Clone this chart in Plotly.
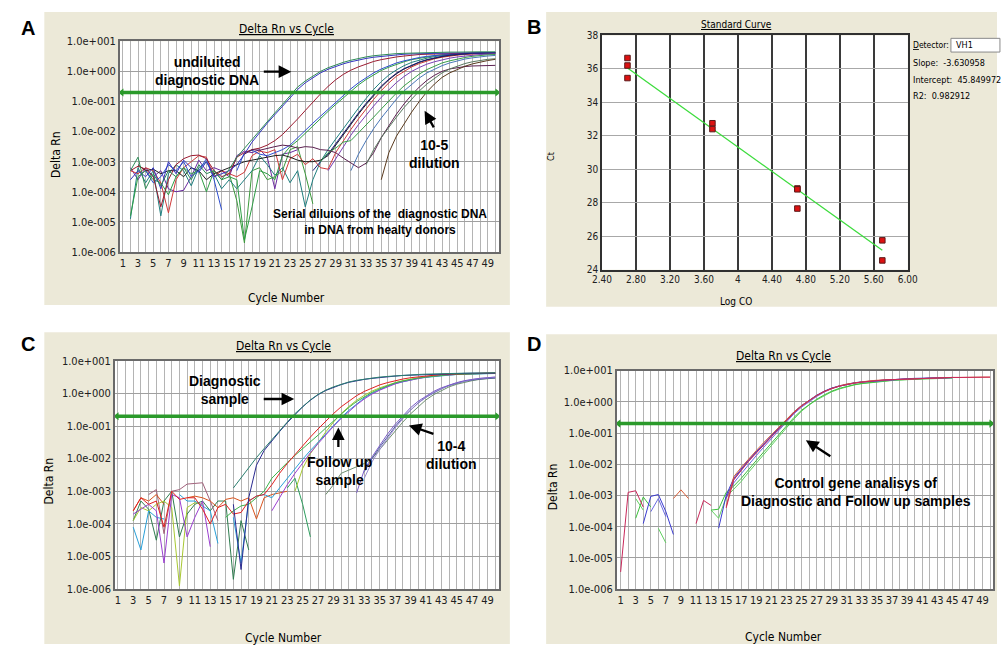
import plotly.graph_objects as go

W, H = 1007, 651

# ------------------------------------------------------------------ data
CYCLE_TICK0, CYCLE_STEP = 1, 2
LOG_TICK_EXP = [1, 0, -1, -2, -3, -4, -5, -6]
LOG_TICK_TEXT = ["1.0e+001", "1.0e+000", "1.0e-001", "1.0e-002",
                 "1.0e-003", "1.0e-004", "1.0e-005", "1.0e-006"]
THRESHOLD = 0.2

# Panel A: (first cycle, log10 Delta Rn per cycle; None = gap)
A_TEAL = (2, [-3.3, -2.85, -3.9, -3.4, -3.8, -3.3, -3.5, -3.2, -3.6, -3.1, -3.4, -3.3, -3.6, -3.25,
              -2.85, -2.55, -2.25, -1.95, -1.66, -1.38, -1.1, -0.8, -0.52, -0.32, -0.15, 0.0, 0.12, 0.22,
              0.3, 0.37, 0.43, 0.48, 0.52, 0.55, 0.57, 0.59, 0.6, 0.61, 0.62, 0.63, 0.63, 0.64, 0.64,
              0.64, 0.65, 0.65, 0.65, 0.65, 0.65])
A_BLUE = (2, [-3.6, -3.3, -3.5, -3.2, -3.9, -3.0, -3.4, -2.95, -3.2, -3.35, -3.0, -3.5, -3.4, -3.3,
              -3.1, -2.75, -2.35, -2.02, -1.72, -1.44, -1.16, -0.88, -0.6, -0.38, -0.2, -0.05, 0.07, 0.17,
              0.25, 0.32, 0.38, 0.43, 0.47, 0.5, 0.53, 0.55, 0.57, 0.58, 0.59, 0.6, 0.6, 0.61, 0.61,
              0.61, 0.62, 0.62, 0.62, 0.62, 0.62])
A_DARKRED = (2, [-3.3, -3.15, -3.25, -3.5, -4.5, -3.6, -3.1, -2.9, -2.8, -2.78, -2.9, -3.3, -3.5, -3.4,
                 -2.85, -2.7, -2.6, -2.55, -2.45, -2.3, -2.1, -1.85, -1.58, -1.3, -1.02, -0.75, -0.5,
                 -0.28, -0.1, 0.04, 0.15, 0.25, 0.33, 0.39, 0.44, 0.48, 0.51, 0.54, 0.56, 0.57, 0.58,
                 0.59, 0.6, 0.6, 0.61, 0.61, 0.61, 0.61, 0.61])
A_ROYAL = (4, [-3.3, -3.7, -3.5, -3.1, -3.3, -3.0, -3.5, -3.3, -2.9, -3.6, -4.6, None,
               -3.3, -2.7, -2.62, -2.75, -2.8, -2.7, -2.6, -2.45, -2.2, -1.95, -1.72, -1.49, -1.26,
               -1.03, -0.8, -0.58, -0.38, -0.2, -0.05, 0.08, 0.19, 0.28, 0.35, 0.41, 0.46, 0.5, 0.53,
               0.55, 0.57, 0.58, 0.59, 0.6, 0.6, 0.6, 0.6])
A_GREEN = (2, [-4.8, -3.5, -3.3, -3.6, -3.7, -4.1, -3.5, -3.2, -3.4, -3.3, -4.0, -3.3, -3.6, -3.5,
               -3.6, -5.6, -4.5, -3.3, -3.4, -3.6, -2.8, -2.5, -2.3, -2.05, -1.8, -1.56, -1.33, -1.1,
               -0.88, -0.66, -0.45, -0.27, -0.11, 0.03, 0.14, 0.24, 0.32, 0.39, 0.44, 0.48, 0.52, 0.55,
               0.57, 0.58, 0.59, 0.6, 0.6, 0.61, 0.61])
A_BLACK = (3, [-3.1, -3.3, -3.25, -3.4, -3.3, -3.3, -3.5, -3.2, -3.3, -3.6, -3.4, -3.3, -3.2,
               -3.1, -3.0, -2.95, -2.9, -2.85, -2.8, -2.78, -2.85, -2.95, -3.0, -3.0, -2.95, -2.8,
               -2.45, -2.1, -1.75, -1.42, -1.1, -0.8, -0.52, -0.28, -0.08, 0.08, 0.2, 0.3, 0.38, 0.44,
               0.49, 0.53, 0.56, 0.58, 0.6, 0.61, 0.62, 0.62])
A_NAVY = (26, [-3.3, -3.0, -2.75, -2.4, -2.05, -1.7, -1.38, -1.06, -0.76, -0.49, -0.26, -0.06, 0.09,
               0.21, 0.31, 0.39, 0.45, 0.5, 0.54, 0.57, 0.59, 0.6, 0.61, 0.62, 0.62])
A_RED = (2, [-3.3, -3.4, -3.2, -3.3, -3.7, -4.7, -3.6, -3.2, -3.0, -2.8, -2.85, -3.5, -3.3, -3.4,
             -3.5, -3.35, -2.8, -2.65, -2.7, -2.6, -3.6, -2.9, -2.75, -3.1, -2.9, -3.2, -3.25, -2.7,
             -2.3, -1.93, -1.58, -1.25, -0.93, -0.64, -0.38, -0.16, 0.01, 0.15, 0.26, 0.35, 0.42,
             0.47, 0.51, 0.54, 0.56, 0.58, 0.59, 0.6, 0.6])
A_PURPLE = (28, [-3.3, -2.9, -2.5, -2.12, -1.77, -1.45, -1.15, -0.86, -0.6, -0.37, -0.17, 0.0, 0.13,
                 0.24, 0.32, 0.39, 0.44, 0.48, 0.51, 0.54, 0.56, 0.57, 0.58])
A_LEAF = (27, [-3.0, -2.7, -2.55, -2.35, -2.3, -2.05, -1.8, -1.52, -1.25, -0.98, -0.72, -0.48, -0.27,
               -0.09, 0.06, 0.18, 0.28, 0.35, 0.41, 0.46, 0.5, 0.53, 0.55, 0.56])
A_CYAN = (2, [-4.9, -3.2, -3.7, -3.3, -4.8, -3.4, -3.1, -3.3, -3.8, -3.2, -3.0, -3.4, -3.9, -3.6,
              -3.9, -3.6, -3.3, -2.8, -3.1, -3.45, -3.2, -3.7, -3.3, -4.5, -3.6, -3.0, -2.6, -2.25,
              -1.9, -1.55, -1.22, -0.9, -0.6, -0.34, -0.12, 0.05, 0.19, 0.3, 0.38, 0.44, 0.49, 0.53,
              0.56, 0.58, 0.6, 0.61, 0.62, 0.62, 0.63])
A_STEEL = (31, [-3.3, -2.75, -2.3, -1.9, -1.55, -1.22, -0.92, -0.65, -0.42, -0.22, -0.05, 0.08, 0.19,
                0.28, 0.35, 0.41, 0.45, 0.49, 0.51, 0.53])
A_PLUM = (17, [-2.75, -2.6, -2.62, -2.55, -2.5, -2.45, -2.48, -2.55, -2.5, -2.52, -2.6, -2.62, -2.7,
               -2.88, -3.05, -3.2, -3.05, -2.7, -2.2, -1.8, -1.42, -1.08, -0.78, -0.52, -0.3, -0.13,
               0.0, 0.08, 0.13, 0.16, 0.18, 0.19, 0.2, 0.2])
A_SAGE = (33, [-3.1, -2.6, -2.2, -1.85, -1.52, -1.2, -0.92, -0.65, -0.42, -0.22, -0.05, 0.08, 0.18,
               0.26, 0.32, 0.37, 0.4, 0.42])
A_BROWN = (35, [-3.6, -2.7, -2.15, -1.75, -1.35, -1.0, -0.68, -0.42, -0.2, -0.05, 0.07, 0.17, 0.25,
                0.31, 0.36, 0.4])
A_VIOLET = (2, [-3.2, -3.6, -3.2, -3.5, -3.3, -3.9, -4.0, -3.95, -3.5, -2.95, -3.3, -3.2, -3.3, -3.5,
                -2.8, -2.65, -2.7, -2.6, -2.85, -3.9, -2.75, -2.7, -2.6])
A_SPIKE = (15, [-3.4, -4.3, -5.7, -3.3, -3.2, -3.6, -3.5, -3.3, -2.6, -2.5, -3.4, -4.4])

# Panel B: standard curve
B_LOGCO = [2.70, 2.70, 2.70, 3.70, 3.70, 4.70, 4.70, 4.70, 5.70, 5.70]
B_CT = [36.65, 36.20, 35.45, 32.75, 32.40, 28.85, 28.80, 27.65, 25.75, 24.55]
B_SLOPE = -3.630958
B_INTERCEPT = 45.849972
B_R2 = 0.982912
B_DETECTOR = "VH1"
B_XTICKS = [2.4, 2.8, 3.2, 3.6, 4.0, 4.4, 4.8, 5.2, 5.6, 6.0]
B_XTEXT = ["2.40", "2.80", "3.20", "3.60", "4", "4.40", "4.80", "5.20", "5.60", "6.00"]

# Panel C
C_DIAG1 = (16, [-2.9, -2.58, -2.27, -1.97, -1.69, -1.41, -1.14, -0.88, -0.62, -0.4, -0.2, -0.03, 0.1,
                0.2, 0.28, 0.35, 0.4, 0.44, 0.47, 0.5, 0.52, 0.54, 0.56, 0.57, 0.58, 0.59, 0.6, 0.6,
                0.61, 0.61, 0.62, 0.62, 0.62, 0.62, 0.63])
C_DIAG2 = (16, [-3.4, -5.4, -3.2, -2.2, -1.75, -1.45, -1.17, -0.9, -0.64, -0.41, -0.21, -0.04, 0.09,
                0.19, 0.27, 0.34, 0.39, 0.43, 0.46, 0.49, 0.51, 0.53, 0.55, 0.56, 0.57, 0.58, 0.59,
                0.6, 0.6, 0.61, 0.61, 0.62, 0.62, 0.62, 0.62])
C_RED = (3, [-3.6, -3.2, -3.4, -3.3, -4.1, -3.0, -3.25, -3.2, -3.2, -3.55, -4.0, -3.5, -3.4,
             -3.7, -3.65, -3.3, -3.15, -3.1, -2.8, -2.45, -2.15, -1.87, -1.6, -1.34, -1.09, -0.85,
             -0.62, -0.41, -0.23, -0.07, 0.06, 0.17, 0.26, 0.33, 0.39, 0.44, 0.48, 0.51, 0.54, 0.56,
             0.58, 0.59, 0.6, 0.61, 0.61, 0.62, 0.62, 0.62])
C_ORANGE = (3, [-3.6, -3.2, -3.3, -3.1, -3.4, None, None, -3.2, -3.15, -3.2, -3.3, -3.5, -3.25,
                -3.2, -3.3, -3.2, -3.85, -3.2, -3.1, -3.05, -3.0])
C_GREEN = (15, [-3.8, -3.6, -3.45, -3.4, -3.2, -3.0, -2.6, -2.35, -2.12, -1.9, -1.7, -1.5, -1.28,
                -1.06, -0.84, -0.63, -0.43, -0.25, -0.1, 0.03, 0.14, 0.24, 0.32, 0.38, 0.43, 0.47,
                0.5, 0.53, 0.55, 0.57, 0.58, 0.59, 0.6, 0.61, 0.61, 0.62])
C_LIME = (3, [-3.9, -3.5, -3.6, -3.4, -3.3, -3.5, -5.9, -3.5, -3.35, -3.4, None, None, None, None,
              None, None, None, None, None, None, None, -3.0, -2.3, -1.85, -1.5, -1.18, -0.88,
              -0.62, -0.4, -0.21, -0.06, 0.07, 0.17, 0.26, 0.33, 0.39, 0.44, 0.48, 0.51, 0.54, 0.56,
              0.58, 0.59, 0.6, 0.61, 0.62, 0.62, 0.63])
C_SKY = (3, [-4.1, -4.8, -3.6, -3.8, -3.85, None, -3.1, -3.3, -3.3, -3.45, -3.6, -4.6, None,
             -3.8, -5.2, -3.3, -3.15, -3.1, -3.2, -2.9, -2.6, -2.3, -2.02, -1.75, -1.49, -1.23,
             -0.98, -0.74, -0.52, -0.32, -0.14, 0.0, 0.12, 0.22, 0.3, 0.36, 0.41, 0.46, 0.49, 0.52,
             0.54, 0.56, 0.58, 0.59, 0.6, 0.6, 0.61, 0.61])
C_PURPLE = (3, [-3.7, -3.55, -3.4, -3.6, -5.2, -3.1, -3.2, -4.4, -3.8, -3.3, -4.7, None, None, None,
                None, None, None, None, -3.6, -3.2, -2.8, -2.45, -2.12, -1.82, -1.54, -1.27, -1.01,
                -0.77, -0.55, -0.35, -0.17, -0.02, 0.1, 0.2, 0.29, 0.36, 0.41, 0.46, 0.5, 0.53, 0.55,
                0.57, 0.58, 0.6, 0.6, 0.61, 0.61, 0.62])
C_MAUVE = (5, [-3.1, -2.95, -4.3, -3.0, -2.95, -2.78, -2.76, -2.74, -3.3, -3.9])
C_PINE = (3, [-3.9, -3.3, -3.55, -4.5, -3.3, -3.0, -4.4, -3.7, -3.4, -3.3, -3.6, -3.3, -3.3,
              -5.7, -3.9, -4.8])
C_FALL = (23, [-2.9, -2.6, -3.4, -4.4])
C_DIL1 = (32, [-3.05, -2.35, -1.95, -1.58, -1.25, -0.95, -0.68, -0.44, -0.24, -0.08, 0.06, 0.17,
               0.26, 0.33, 0.39, 0.43, 0.46, 0.48, 0.5])
C_DIL2 = (33, [-2.6, -2.1, -1.72, -1.38, -1.06, -0.78, -0.52, -0.3, -0.12, 0.03, 0.15, 0.25, 0.32,
               0.38, 0.43, 0.46, 0.48, 0.5])
C_DIL3 = (28, [-3.1, -2.8, -2.45, -2.35, -2.25, -2.15, -2.0, -1.72, -1.43, -1.15, -0.88, -0.63,
               -0.4, -0.2, -0.04, 0.09, 0.2, 0.28, 0.34, 0.39, 0.43, 0.45, 0.47])
C_DIL4 = (33, [-2.4, -2.0, -1.65, -1.32, -1.02, -0.74, -0.5, -0.29, -0.12, 0.02, 0.14, 0.24, 0.31,
               0.37, 0.41, 0.44, 0.46, 0.47])

# Panel D
D_CRIMSON = (1, [-5.45, -2.9, -2.85, -3.37, None, None, None, None, None, None, -3.9, -3.16, -3.32,
                 None, -3.4, -2.5, -2.2, -1.9, -1.64, -1.38, -1.12, -0.86, -0.59, -0.35, -0.14, 0.03,
                 0.2, 0.33, 0.43, 0.5, 0.56, 0.6, 0.63, 0.66, 0.68, 0.7, 0.71, 0.72, 0.74, 0.75, 0.76,
                 0.76, 0.77, 0.77, 0.78, 0.78, 0.78, 0.79, 0.79, 0.79])
D_BLUE = (4, [-3.9, -3.03, -2.97, -3.52, -4.25, None, None, None, None, None, -4.05, -3.0, -2.45,
              -2.15, -1.85, -1.6, -1.34, -1.08, -0.82, -0.56, -0.32, -0.12, 0.05, 0.21, 0.34, 0.44,
              0.51, 0.57, 0.61, 0.64, 0.66, 0.68, 0.7, 0.71, 0.72, 0.74, 0.75, 0.76, 0.76, 0.77, 0.77,
              0.78])
D_LAVENDER = (5, [-3.52, -3.1, -3.68, None, None, None, None, None, None, None, -3.05, -2.6, -2.3,
                  -2.0, -1.72, -1.45, -1.18, -0.9, -0.63, -0.38, -0.17, 0.0, 0.17, 0.31, 0.42, 0.5,
                  0.56, 0.6, 0.63, 0.65, 0.67, 0.69, 0.71, 0.72, 0.73, 0.74, 0.75, 0.76, 0.76, 0.77,
                  0.77])
D_GREEN = (3, [-3.73, -3.05, -3.37, None, None, None, None, None, None, None, -3.47, -3.44, -2.9,
               -2.7, -2.45, -2.15, -1.88, -1.6, -1.32, -1.04, -0.76, -0.5, -0.27, -0.08, 0.08, 0.22,
               0.34, 0.43, 0.5, 0.55, 0.59, 0.62, 0.65, 0.67, 0.69, 0.7, 0.72, 0.73, 0.74, 0.75, 0.76,
               0.76, 0.77])
D_LIGHTGREEN = (3, [-3.1, -3.47, None, -4.05, -4.52, None, None, None, None, None, -3.47, -3.73,
                    -3.05, -2.8, -2.55, -2.25, -1.97, -1.68, -1.4, -1.1, -0.82, -0.55, -0.3, -0.1,
                    0.06, 0.2, 0.32, 0.41, 0.48, 0.54, 0.58, 0.61, 0.64, 0.66, 0.68, 0.7, 0.71, 0.72,
                    0.73, 0.74, 0.75, 0.76, 0.76])
D_ORANGE = (8, [-3.1, -2.82, -3.1, None, None, None, None, -3.35, -2.4, -2.1, -1.82, -1.56, -1.3,
                -1.05, -0.8, -0.55, -0.32, -0.12, 0.05, 0.2, 0.33, 0.43, 0.51, 0.57, 0.61, 0.64,
                0.67, 0.69, 0.7, 0.72, 0.73, 0.74, 0.75, 0.76, 0.77, 0.77, 0.78, 0.78, 0.78, 0.79,
                0.79, 0.79, 0.79])
D_PURPLE = (15, [-3.1, -2.5, -2.18, -1.88, -1.62, -1.36, -1.1, -0.84, -0.58, -0.34, -0.13, 0.04, 0.2,
                 0.33, 0.43, 0.5, 0.56, 0.6, 0.63, 0.66, 0.68, 0.7, 0.71, 0.72, 0.74, 0.75, 0.76,
                 0.76, 0.77, 0.77, 0.78])

# ------------------------------------------------------------------ styling
BEIGE = "#ece9d8"
GRID = "#b4b4b4"
AXIS = "#6a6a6a"
NARROW = "DejaVu Sans Condensed, Liberation Sans Narrow, Arial Narrow, sans-serif"
BOLD = "Liberation Sans, Arial, sans-serif"
THR_COLOR = "#2b9a2b"


def px(x):
    return x / W


def py(y):
    return 1 - y / H


def curve(spec):
    start, logs = spec
    xs = list(range(start, start + len(logs)))
    ys = [None if v is None else 10 ** v for v in logs]
    return xs, ys


fig = go.Figure()

A_STYLE = [(A_VIOLET, "#6a2aa0"), (A_SPIKE, "#3c9a3c"), (A_CYAN, "#1f7f7f"), (A_GREEN, "#2e9e45"),
           (A_RED, "#d03a3a"), (A_BLACK, "#1e1e1e"), (A_ROYAL, "#2f4fd0"), (A_DARKRED, "#9b1b30"),
           (A_BLUE, "#3535c0"), (A_NAVY, "#1c1c7a"), (A_PURPLE, "#7a3fb5"), (A_LEAF, "#3aa04a"),
           (A_STEEL, "#4a78b8"), (A_PLUM, "#5b1f4f"), (A_SAGE, "#5a7a60"), (A_BROWN, "#5a3a1e"),
           (A_TEAL, "#2e8b57")]
C_STYLE = [(C_PINE, "#2e7d4f"), (C_MAUVE, "#a0607a"), (C_ORANGE, "#d9541e"), (C_FALL, "#2e9e5e"),
           (C_LIME, "#a8c832"), (C_SKY, "#2aa0d8"), (C_PURPLE, "#9b3fd0"), (C_GREEN, "#3cb44b"),
           (C_RED, "#e02020"), (C_DIL3, "#6f8f70"), (C_DIL4, "#5060a0"), (C_DIL2, "#9a8ad0"),
           (C_DIL1, "#7b5cc8"), (C_DIAG2, "#2a2a90"), (C_DIAG1, "#2a7f6f")]
D_STYLE = [(D_LIGHTGREEN, "#60d060"), (D_GREEN, "#3cc03c"), (D_LAVENDER, "#6a6ae0"),
           (D_PURPLE, "#8040a0"), (D_BLUE, "#3a3ad0"), (D_ORANGE, "#d8603a"), (D_CRIMSON, "#c8285a")]

X_RANGES = {"x": [0.6, 50.5], "x3": [0.62, 50.5], "x4": [0.48, 50.4]}

for styles, xa, ya in [(A_STYLE, "x", "y"), (C_STYLE, "x3", "y3"), (D_STYLE, "x4", "y4")]:
    for spec, col in styles:
        xs, ys = curve(spec)
        fig.add_trace(go.Scatter(x=xs, y=ys, mode="lines", line=dict(color=col, width=1),
                                 connectgaps=False, xaxis=xa, yaxis=ya, hoverinfo="skip",
                                 showlegend=False))
    xr = X_RANGES[xa]
    fig.add_trace(go.Scatter(x=[xr[0] + 0.25, xr[1] - 0.25], y=[THRESHOLD, THRESHOLD],
                             mode="lines+markers", line=dict(color=THR_COLOR, width=3.5),
                             marker=dict(symbol=["triangle-left", "triangle-right"], size=7,
                                         color=THR_COLOR),
                             cliponaxis=False, xaxis=xa, yaxis=ya, hoverinfo="skip",
                             showlegend=False))

# Panel B traces
fit_x = [min(B_LOGCO), max(B_LOGCO)]
fit_y = [B_INTERCEPT + B_SLOPE * v for v in fit_x]
fig.add_trace(go.Scatter(x=fit_x, y=fit_y, mode="lines", line=dict(color="#3ddc3d", width=1.3),
                         xaxis="x2", yaxis="y2", hoverinfo="skip", showlegend=False))
fig.add_trace(go.Scatter(x=B_LOGCO, y=B_CT, mode="markers",
                         marker=dict(symbol="square", size=5.5, color="#dd1111",
                                     line=dict(color="#5a1a1a", width=1)),
                         xaxis="x2", yaxis="y2", hoverinfo="skip", showlegend=False))

# ------------------------------------------------------------------ axes
TICKFONT = dict(family=NARROW, size=11, color="#202020")


def pcr_x(domain, xr):
    return dict(domain=domain, range=xr, tickmode="linear", tick0=CYCLE_TICK0, dtick=CYCLE_STEP,
                showgrid=True, gridcolor=GRID, gridwidth=1,
                minor=dict(dtick=1, showgrid=True, gridcolor=GRID, gridwidth=1),
                showline=True, linecolor=AXIS, linewidth=1.5, mirror=True, ticks="",
                tickfont=TICKFONT, zeroline=False, fixedrange=True)


def pcr_y(domain, anchor):
    return dict(domain=domain, anchor=anchor, type="log", range=[-6, 1], tickmode="array",
                tickvals=[10 ** e for e in LOG_TICK_EXP], ticktext=LOG_TICK_TEXT,
                showgrid=True, gridcolor="#a0a0a0", gridwidth=1, showline=True, linecolor=AXIS,
                linewidth=1.5, mirror=True, ticks="", tickfont=TICKFONT, zeroline=False,
                fixedrange=True)


PLOT_BOXES = {"A": (112, 36, 499, 251), "B": (604, 30, 916, 269),
              "C": (107, 362, 499, 595), "D": (619, 372, 1003, 595)}


def dom_x(key):
    b = PLOT_BOXES[key]
    return [px(b[0]), px(b[2])]


def dom_y(key):
    b = PLOT_BOXES[key]
    return [py(b[3]), py(b[1])]


fig.update_layout(
    width=W, height=H, margin=dict(l=0, r=0, t=0, b=0),
    paper_bgcolor="white", plot_bgcolor="white", showlegend=False,
    xaxis=dict(**pcr_x(dom_x("A"), X_RANGES["x"]), anchor="y"),
    yaxis=pcr_y(dom_y("A"), "x"),
    xaxis3=dict(**pcr_x(dom_x("C"), X_RANGES["x3"]), anchor="y3"),
    yaxis3=pcr_y(dom_y("C"), "x3"),
    xaxis4=dict(**pcr_x(dom_x("D"), X_RANGES["x4"]), anchor="y4"),
    yaxis4=pcr_y(dom_y("D"), "x4"),
    xaxis2=dict(domain=dom_x("B"), anchor="y2", range=[2.4, 6.0], tickmode="array",
                tickvals=B_XTICKS, ticktext=B_XTEXT, showgrid=True, gridcolor="#3a3a3a",
                gridwidth=2, showline=True, linecolor="#303030", linewidth=1.5, mirror=True,
                ticks="", tickfont=dict(family=NARROW, size=10, color="#202020"), zeroline=False,
                fixedrange=True),
    yaxis2=dict(domain=dom_y("B"), anchor="x2", range=[24, 38], dtick=2, tick0=24,
                showgrid=True, gridcolor="#a8a8a8", gridwidth=1, showline=True,
                linecolor="#303030", linewidth=1.5, mirror=True, ticks="",
                tickfont=dict(family=NARROW, size=10, color="#202020"), zeroline=False,
                fixedrange=True),
)

# background panels (beige), then white plotting areas
shapes = []
for x0, y0, x1, y1 in [(35, 6, 510, 305), (547, 6, 1007, 307), (35, 333, 510, 651),
                       (547, 335, 1007, 651)]:
    shapes.append(dict(type="rect", xref="paper", yref="paper", x0=px(x0), x1=px(x1),
                       y0=py(y1), y1=py(y0), fillcolor=BEIGE, line=dict(width=0), layer="below"))
for key in "ABCD":
    x0, y0, x1, y1 = PLOT_BOXES[key]
    shapes.append(dict(type="rect", xref="paper", yref="paper", x0=px(x0), x1=px(x1),
                       y0=py(y1), y1=py(y0), fillcolor="white", line=dict(width=0),
                       layer="below"))
shapes.append(dict(type="rect", xref="paper", yref="paper", x0=px(960), x1=px(1010),
                   y0=py(47), y1=py(33), fillcolor="white", line=dict(color="#8a8a8a", width=1),
                   layer="below"))
fig.update_layout(shapes=shapes)

# ------------------------------------------------------------------ text
anns = []


def text(t, x, y, size, family=NARROW, **kw):
    d = dict(text=t, x=px(x), y=py(y), xref="paper", yref="paper", showarrow=False,
             font=dict(size=size, family=family, color="#000000"), xanchor="center",
             yanchor="middle")
    d.update(kw)
    anns.append(d)


def arrow(hx, hy, tx, ty):
    anns.append(dict(text="", x=px(hx), y=py(hy), xref="paper", yref="paper", showarrow=True,
                     ax=tx - hx, ay=ty - hy, arrowhead=2, arrowsize=1.1, arrowwidth=2.3,
                     arrowcolor="black", standoff=0))


# panel letters
for letter, x, y in [("A", 18, 22), ("B", 535, 21), ("C", 18, 345), ("D", 535, 345)]:
    text("<b>%s</b>" % letter, x, y, 20, BOLD)

# panel titles & axis titles
text("<u>Delta Rn vs Cycle</u>", 282, 23, 12)
text("Cycle Number", 282, 298, 12)
text("Delta Rn", 47, 152, 12, textangle=-90)
text("<u>Delta Rn vs Cycle</u>", 279, 347, 12)
text("Cycle Number", 279, 645, 12)
text("Delta Rn", 40, 485, 12, textangle=-90)
text("<u>Delta Rn vs Cycle</u>", 789, 357, 12)
text("Cycle Number", 789, 644, 12)
text("Delta Rn", 554, 490, 12, textangle=-90)
text("<u>Standard Curve</u>", 741, 19, 10)
text("Log CO", 741, 302, 10)
text("Ct", 552, 154, 9, textangle=-90)

# panel B side info
text("<u>D</u>etector:", 919, 40, 8.5, xanchor="left")
text(B_DETECTOR, 963, 40, 9, xanchor="left")
text("Slope:  %.6f" % B_SLOPE, 919, 58, 9, xanchor="left")
text("Intercept:  %.6f" % B_INTERCEPT, 919, 75, 9, xanchor="left")
text("R2:  %.6f" % B_R2, 919, 92, 9, xanchor="left")

# callouts
text("<b>undiluited<br>diagnostic DNA</b>", 201, 66, 14, BOLD)
arrow(287, 67, 258, 67)
text("<b>10-5<br>dilution</b>", 433, 151, 14, BOLD)
arrow(423, 107, 433, 125)
text("<b>Serial diluions of the  diagnostic DNA<br>in DNA from healty donors</b>", 378, 220, 12,
     BOLD)

text("<b>Diagnostic<br>sample</b>", 219, 392, 14, BOLD)
arrow(290, 401, 258, 401)
text("<b>Follow up<br>sample</b>", 336, 474, 14, BOLD)
arrow(335, 430, 335, 451)
text("<b>10-4<br>dilution</b>", 450, 458, 14, BOLD)
arrow(407, 428, 433, 437)

text("<b>Control gene analisys of<br>Diagnostic and Follow up samples</b>", 863, 496, 14, BOLD)
arrow(812, 443, 838, 460)

fig.update_layout(annotations=anns)

fig.write_html("out.html", include_plotlyjs=True, config={"displayModeBar": False},
               post_script="document.body.style.margin='0';")
